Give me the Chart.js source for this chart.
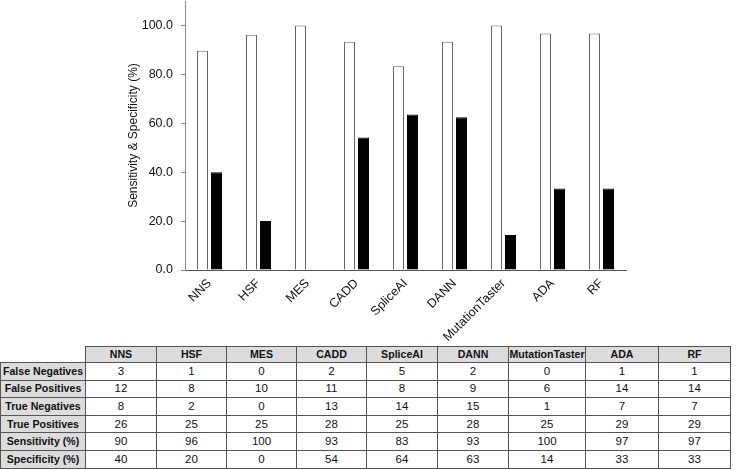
<!DOCTYPE html>
<html>
<head>
<meta charset="utf-8">
<script src="https://cdn.jsdelivr.net/npm/chart.js@4.4.1/dist/chart.umd.min.js"></script>
<style>
  body { margin: 0; background: #fff; width: 750px; height: 470px; position: relative; overflow: hidden; }
  #chartBox { position: absolute; left: 0; top: 0; width: 750px; height: 345px; }
  #stats {
    position: absolute; left: 0; top: 346px; width: 730px;
    border-collapse: collapse;
    font-family: "Liberation Sans", Arial, sans-serif; font-size: 11.5px; color: #111;
    table-layout: fixed;
  }
  #stats td, #stats th {
    border: 1px solid #555; text-align: center; padding: 0;
    line-height: 13px; white-space: nowrap; overflow: hidden;
  }
  #stats tbody tr { height: 17.6px; }
  #stats thead tr { height: 16px; }
  #stats th { background: #dcdcdc; font-weight: bold; font-size: 10.6px; }
  #stats th.corner { background: #fff; border: none; }
</style>
</head>
<body>
<div id="chartBox"><canvas id="perfChart" width="750" height="345"></canvas></div>
<table id="stats"></table>
<script>
// tools compared
const tools = ['NNS', 'HSF', 'MES', 'CADD', 'SpliceAI', 'DANN', 'MutationTaster', 'ADA', 'RF'];

// bar heights (%)
const sensitivity = [89.7, 96.2, 100, 93.3, 83.3, 93.3, 100, 96.7, 96.7];
const specificity = [40, 20, 0, 54.2, 63.6, 62.5, 14.3, 33.3, 33.3];

// table rows
const falseNegatives = [3, 1, 0, 2, 5, 2, 0, 1, 1];
const falsePositives = [12, 8, 10, 11, 8, 9, 6, 14, 14];
const trueNegatives = [8, 2, 0, 13, 14, 15, 1, 7, 7];
const truePositives = [26, 25, 25, 28, 25, 28, 25, 29, 29];
const sensitivityRounded = [90, 96, 100, 93, 83, 93, 100, 97, 97];
const specificityRounded = [40, 20, 0, 54, 64, 63, 14, 33, 33];

const yTicks = [0, 20, 40, 60, 80, 100];

const font = 'Liberation Sans, Arial, sans-serif';

const perfChart = new Chart(
    document.getElementById('perfChart').getContext('2d'),
    {
        type: 'bar',
        data: {
            labels: tools,
            datasets: [{
                label: 'Sensitivity (%)',
                data: sensitivity,
                backgroundColor: '#ffffff',
                borderColor: '#666666',
                borderWidth: 1,
                categoryPercentage: 0.571,
                barPercentage: 0.786
            }, {
                label: 'Specificity (%)',
                data: specificity,
                backgroundColor: '#000000',
                borderColor: '#000000',
                borderWidth: 1,
                categoryPercentage: 0.571,
                barPercentage: 0.786
            }]
        },
        options: {
            responsive: false,
            animation: false,
            layout: { padding: { left: 122, right: 124, top: 1, bottom: 0 } },
            plugins: {
                legend: { display: false },
                tooltip: { enabled: false }
            },
            scales: {
                x: {
                    grid: { display: false, drawTicks: false },
                    border: { display: true, color: '#555555', width: 1 },
                    ticks: {
                        color: '#111',
                        font: { family: font, size: 12.5 },
                        minRotation: 45,
                        maxRotation: 45,
                        padding: 6
                    },
                    afterFit: axis => {
                        axis.height = 75;
                        axis.paddingLeft = 0;
                        axis.paddingRight = 0;
                    }
                },
                y: {
                    min: 0,
                    max: 110,
                    grid: { display: true, drawOnChartArea: false, drawTicks: true, tickLength: 4, color: '#8a8a8a' },
                    border: { display: true, color: '#8a8a8a', width: 1 },
                    ticks: {
                        color: '#111',
                        font: { family: font, size: 12.5 },
                        padding: 8,
                        callback: v => Number(v).toFixed(1)
                    },
                    afterBuildTicks: axis => {
                        axis.ticks = yTicks.map(v => ({ value: v }));
                    },
                    afterFit: axis => {
                        axis.width = 63;
                        axis.paddingTop = 0;
                        axis.paddingBottom = 0;
                    },
                    title: {
                        display: true,
                        text: 'Sensitivity & Specificity (%)',
                        color: '#111',
                        font: { family: font, size: 12 },
                        padding: { top: 4, bottom: 4 }
                    }
                }
            }
        }
    }
);

// build the table under the chart
const colWidths = [85, 71, 70, 70, 70, 71, 71, 77, 73, 72];
const rows = [
    ['False Negatives', falseNegatives],
    ['False Positives', falsePositives],
    ['True Negatives', trueNegatives],
    ['True Positives', truePositives],
    ['Sensitivity (%)', sensitivityRounded],
    ['Specificity (%)', specificityRounded]
];

const table = document.getElementById('stats');
let html = '<colgroup>' + colWidths.map(w => '<col style="width:' + w + 'px">').join('') + '</colgroup>';
html += '<thead><tr><th class="corner"></th>' + tools.map(t => '<th>' + t + '</th>').join('') + '</tr></thead><tbody>';
rows.forEach(([name, vals]) => {
    html += '<tr><th>' + name + '</th>' + vals.map(v => '<td>' + v + '</td>').join('') + '</tr>';
});
html += '</tbody>';
table.innerHTML = html;
</script>
</body>
</html>
